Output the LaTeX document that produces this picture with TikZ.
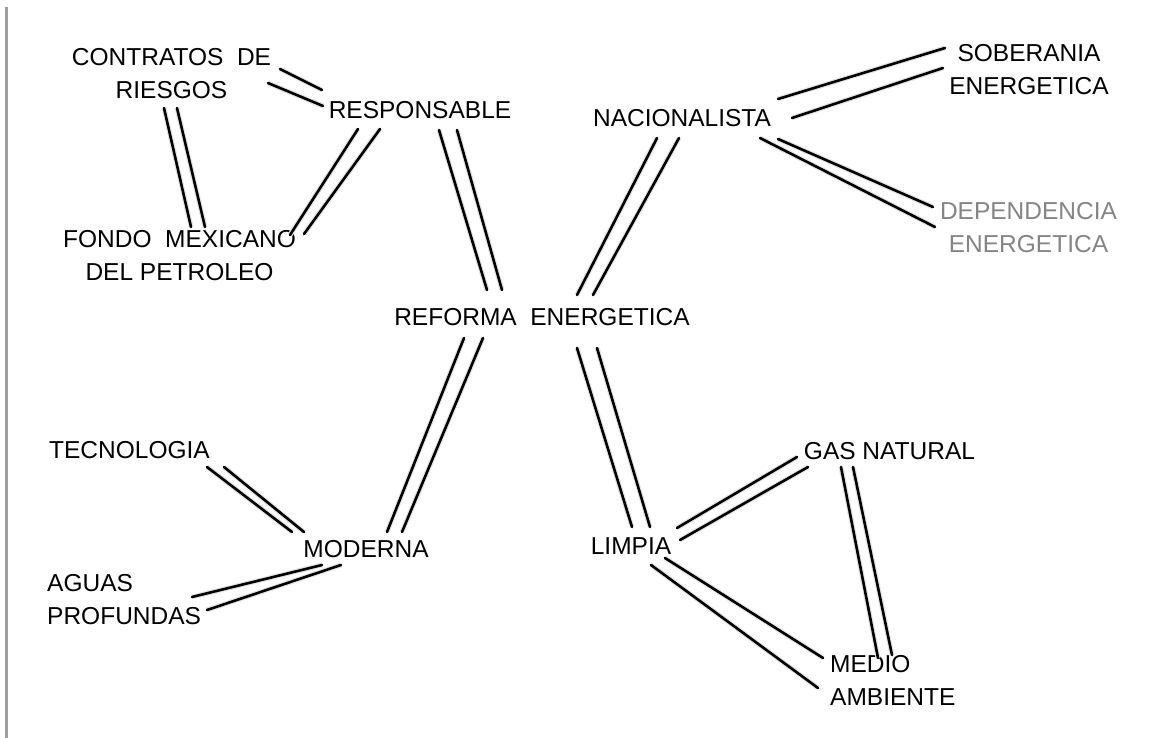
\documentclass[tikz,border=0pt]{standalone}
\usepackage{fontspec}
\setmainfont{Liberation Sans}
\usepackage{tikz}

\tikzset{
  concept/.style={inner sep=0pt, font=\fontsize{24.5}{33}\selectfont},
  link/.style={line width=2.6pt, black, line cap=round,
    preaction={draw=black!10, line width=5pt}}
}

\begin{document}
\begin{tikzpicture}[x=1pt,y=-1pt]
  \useasboundingbox (0,0) rectangle (1154,738);
  \fill[white] (0,0) rectangle (1154,738);
  \draw[black!38, line width=3pt]
    (6.5,7)
    --
    (6.5,738);

  % conceptos
  \node[concept, align=center] (contr) at (171.5,73.5) {CONTRATOS\ \ DE\\RIESGOS};
  \node[concept] (resp) at (420,110) {RESPONSABLE};
  \node[concept, align=center] (fondo) at (179.5,256) {FONDO\ \ MEXICANO\\DEL PETROLEO};
  \node[concept] (nacion) at (682,118) {NACIONALISTA};
  \node[concept, align=center] (sober) at (1029,69.5) {SOBERANIA\\ENERGETICA};
  \node[concept, align=center, text=black!48] (depend) at (1028.5,227.5) {DEPENDENCIA\\ENERGETICA};
  \node[concept] (reforma) at (542,317) {REFORMA\ \ ENERGETICA};
  \node[concept] (tecno) at (129.5,450) {TECNOLOGIA};
  \node[concept] (moderna) at (366,549) {MODERNA};
  \node[concept, align=left, anchor=west] (aguas) at (47,600) {AGUAS\\PROFUNDAS};
  \node[concept] (gas) at (889.5,451) {GAS NATURAL};
  \node[concept] (limpia) at (631,546) {LIMPIA};
  \node[concept, align=left, anchor=west] (medio) at (830,680.5) {MEDIO\\AMBIENTE};

  % contratos -- responsable
  \draw[link]
    ([shift={(108.5,-4.5)}]contr.center) -- ([shift={(-98,-20)}]resp.center);
  \draw[link]
    ([shift={(96.5,9.5)}]contr.center) -- ([shift={(-97,-4)}]resp.center);
  % contratos -- fondo
  \draw[link]
    ([shift={(-7.5,34.5)}]contr.center) -- ([shift={(11.5,-29)}]fondo.center);
  \draw[link]
    ([shift={(5.5,34.5)}]contr.center) -- ([shift={(25.5,-29)}]fondo.center);
  % responsable -- fondo
  \draw[link]
    ([shift={(-62,19)}]resp.center) -- ([shift={(110.5,-21)}]fondo.center);
  \draw[link]
    ([shift={(-40,19)}]resp.center) -- ([shift={(124.5,-22)}]fondo.center);
  % responsable -- reforma
  \draw[link]
    ([shift={(19,20)}]resp.center) -- ([shift={(-55,-27)}]reforma.center);
  \draw[link]
    ([shift={(37,20)}]resp.center) -- ([shift={(-40,-27)}]reforma.center);
  % nacionalista -- reforma
  \draw[link]
    ([shift={(-25,20)}]nacion.center) -- ([shift={(35,-22)}]reforma.center);
  \draw[link]
    ([shift={(-3,20)}]nacion.center) -- ([shift={(51,-22)}]reforma.center);
  % nacionalista -- soberania
  \draw[link]
    ([shift={(96,-19)}]nacion.center) -- ([shift={(-84,-21.5)}]sober.center);
  \draw[link]
    ([shift={(110,0)}]nacion.center) -- ([shift={(-86,-1.5)}]sober.center);
  % nacionalista -- dependencia
  \draw[link]
    ([shift={(78,20)}]nacion.center) -- ([shift={(-93.5,-0.5)}]depend.center);
  \draw[link]
    ([shift={(96,21)}]nacion.center) -- ([shift={(-95.5,-20.5)}]depend.center);
  % reforma -- moderna
  \draw[link]
    ([shift={(-78,21)}]reforma.center) -- ([shift={(21,-17)}]moderna.center);
  \draw[link]
    ([shift={(-59,21)}]reforma.center) -- ([shift={(36,-17)}]moderna.center);
  % tecnologia -- moderna
  \draw[link]
    ([shift={(77.5,17)}]tecno.center) -- ([shift={(-74,-17)}]moderna.center);
  \draw[link]
    ([shift={(94.5,17)}]tecno.center) -- ([shift={(-62,-17)}]moderna.center);
  % aguas -- moderna
  \draw[link]
    ([shift={(145,-3)}]aguas.west) -- ([shift={(-44,16)}]moderna.center);
  \draw[link]
    ([shift={(160,10)}]aguas.west) -- ([shift={(-25,16)}]moderna.center);
  % reforma -- limpia
  \draw[link]
    ([shift={(35,31)}]reforma.center) -- ([shift={(1,-19)}]limpia.center);
  \draw[link]
    ([shift={(55,31)}]reforma.center) -- ([shift={(19,-19)}]limpia.center);
  % limpia -- gas
  \draw[link]
    ([shift={(46,-18)}]limpia.center) -- ([shift={(-92.5,6)}]gas.center);
  \draw[link]
    ([shift={(49,-6)}]limpia.center) -- ([shift={(-81.5,16)}]gas.center);
  % gas -- medio
  \draw[link]
    ([shift={(-48.5,16)}]gas.center) -- ([shift={(48,-22.5)}]medio.west);
  \draw[link]
    ([shift={(-36.5,16)}]gas.center) -- ([shift={(62,-25.5)}]medio.west);
  % limpia -- medio
  \draw[link]
    ([shift={(34,12)}]limpia.center) -- ([shift={(-7,-22.5)}]medio.west);
  \draw[link]
    ([shift={(20,19)}]limpia.center) -- ([shift={(-12,7.5)}]medio.west);
\end{tikzpicture}
\end{document}
